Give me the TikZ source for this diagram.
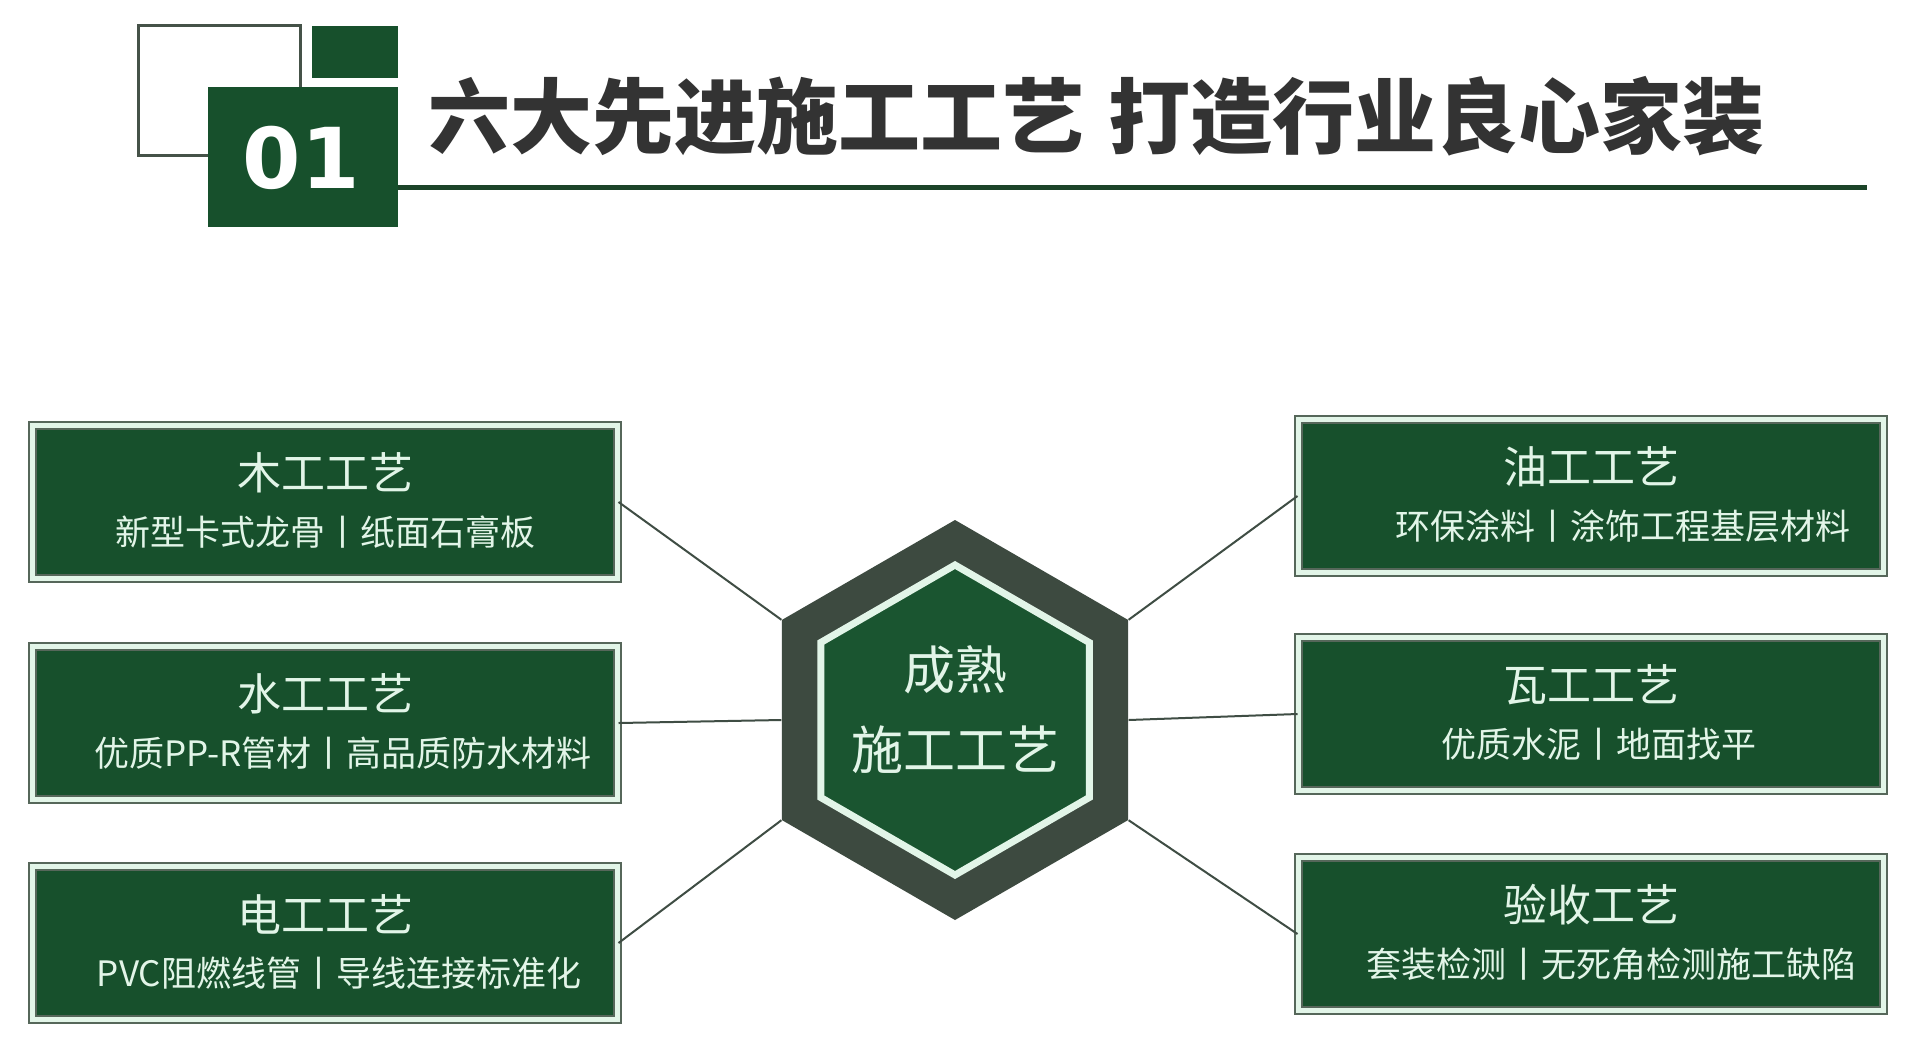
\documentclass[tikz,border=0pt]{standalone}
\usepackage{fontspec}
\newfontfamily\cjk{Noto Sans CJK SC}
\newfontfamily\digits{DejaVu Sans}
\usetikzlibrary{shapes.geometric}

\definecolor{craftgreen}{HTML}{17502C}
\definecolor{hexgreen}{HTML}{1A5530}
\definecolor{hexgray}{HTML}{3D4A40}
\definecolor{mintline}{HTML}{E2F5E8}
\definecolor{framegray}{HTML}{56675A}
\definecolor{linkgray}{HTML}{3F4D44}
\definecolor{titlegray}{HTML}{333333}
\definecolor{rulegreen}{HTML}{1C4429}

\tikzset{
	craftbox/.style={rectangle, fill=craftgreen, draw=framegray, line width=1pt,
		double=mintline, double distance=2.5pt,
		minimum width=292.5pt, minimum height=76.5pt, inner sep=0pt},
	crafttitle/.style={text=mintline, inner sep=0pt, font=\cjk\fontsize{22}{26}\selectfont},
	craftdetail/.style={text=mintline, inner sep=0pt, font=\cjk\fontsize{17.5}{21}\selectfont},
	linkline/.style={draw=linkgray, line width=1pt}
}

\begin{document}
\begin{tikzpicture}[x=0.5pt, y=-0.5pt]

	\useasboundingbox (0,0) rectangle (1920,1050);
	\fill[white] (0,0) rectangle (1920,1050);

	% Heading
	\draw[framegray!80!black, line width=1.5pt] (138,25) rectangle (300,155);
	\fill[craftgreen] (312,26) rectangle (398,78);
	\node[fill=craftgreen, minimum width=95pt, minimum height=70pt, inner sep=0pt] (badge) at (303,157) {};
	\node[text=white, inner sep=0pt, font=\digits\bfseries\fontsize{42}{46}\selectfont]
		(badgenum) at (301,158) {01};
	\node[anchor=west, inner sep=0pt, text=titlegray,
		font=\cjk\bfseries\fontsize{41}{45}\selectfont] (headline) at (428,116)
		{六大先进施工工艺\hspace{12pt}打造行业良心家装};
	\coordinate (ruleend) at (1867,187);
	\draw[rulegreen, line width=2.5pt] (badge.east |- ruleend) -- (ruleend);

	% Centre
	\node[regular polygon, regular polygon sides=6, shape border rotate=30,
		minimum size=200pt, inner sep=0pt, fill=hexgray] (hex) at (955,720) {};
	\node[regular polygon, regular polygon sides=6, shape border rotate=30,
		minimum size=155pt, inner sep=0pt, fill=hexgreen, draw=mintline, line width=3.5pt]
		(core) at (hex.center) {};
	\node[text=mintline, align=center, inner sep=0pt, font=\cjk\fontsize{26}{40}\selectfont]
		(coretext) at ([yshift=5pt]core.center) {成熟\\施工工艺};

	% Left crafts
	\foreach \i/\y/\name/\detail/\dx in {1/502/木工工艺/新型卡式龙骨丨纸面石膏板/0,
		2/723/水工工艺/优质PP-R管材丨高品质防水材料/9, 3/943/电工工艺/PVC阻燃线管丨导线连接标准化/7} {
		\node[craftbox] (l\i) at (325,\y) {};
		\node[crafttitle] (l\i-title) at ([yshift=14.5pt]l\i.center) {\name};
		\node[craftdetail] (l\i-detail) at ([xshift=\dx pt, yshift=-15pt]l\i.center) {\detail};
	}

	% Right crafts
	\foreach \i/\y/\name/\detail/\dx in {1/496/油工工艺/环保涂料丨涂饰工程基层材料/16,
		2/714/瓦工工艺/优质水泥丨地面找平/4, 3/934/验收工艺/套装检测丨无死角检测施工缺陷/10} {
		\node[craftbox] (r\i) at (1591,\y) {};
		\node[crafttitle] (r\i-title) at ([yshift=14.5pt]r\i.center) {\name};
		\node[craftdetail] (r\i-detail) at ([xshift=\dx pt, yshift=-15pt]r\i.center) {\detail};
	}

	% Links
	\draw[linkline] (l1.east) -- (hex.150);
	\draw[linkline] (l2.east) -- (hex.180);
	\draw[linkline] (l3.east) -- (hex.210);
	\draw[linkline] (r1.west) -- (hex.30);
	\draw[linkline] (r2.west) -- (hex.0);
	\draw[linkline] (r3.west) -- (hex.330);

\end{tikzpicture}
\end{document}
